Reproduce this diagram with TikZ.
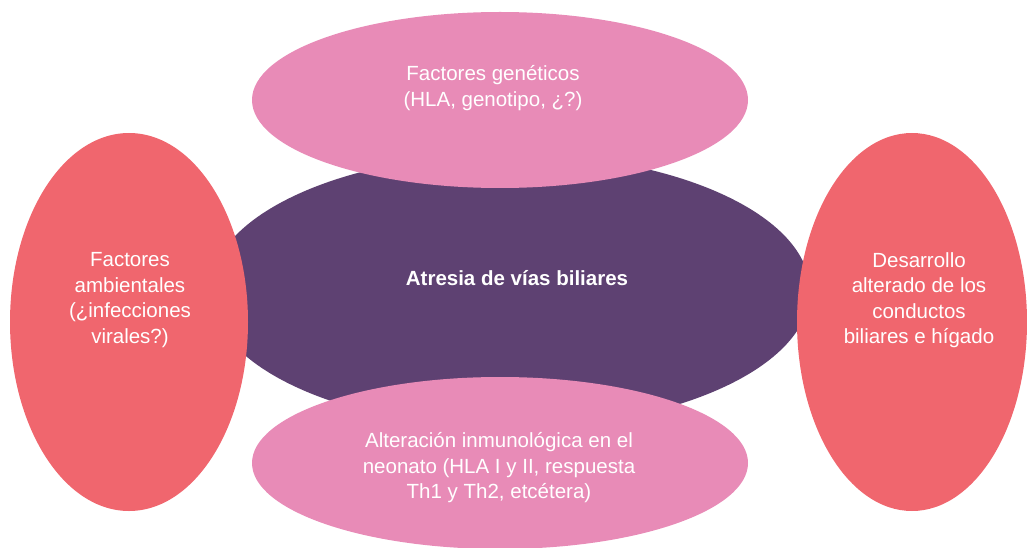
\documentclass[tikz,border=0pt]{standalone}
\usepackage{fontspec}
\setmainfont{Liberation Sans}
\usepackage{tikz}
\usetikzlibrary{shapes.geometric,positioning}
\definecolor{redblob}{HTML}{F0666E}
\definecolor{pinkblob}{HTML}{E88BB7}
\definecolor{purpleblob}{HTML}{5E4172}
\tikzset{blob/.style={ellipse,draw=none,inner sep=0pt,outer sep=0pt},
  blob text/.style={text=white,align=center,inner sep=0pt,font=\fontsize{20.5}{25.5}\selectfont}}

\begin{document}
\begin{tikzpicture}[x=1pt,y=-1pt]
\useasboundingbox (0,0) rectangle (1027,548);

% Central ellipse
\node[blob, fill=purpleblob, minimum width=600, minimum height=274] (atresia) at (510,291) {};
\node[blob text, font=\fontsize{20.5}{25.5}\selectfont\bfseries] (atresiaT) at (517,278) {Atresia de vías biliares};

% Side ellipses (left and right)
\node[blob, fill=redblob, minimum width=238, minimum height=378] (ambiente) at (129,322) {};
\node[blob text] (ambienteT) at (130,300) {Factores\\ambientales\\(¿infecciones\\virales?)};

\node[blob, fill=redblob, minimum width=230, minimum height=378] (desarrollo) at (912,322) {};
\node[blob text] (desarrolloT) at (919,300) {Desarrollo\\alterado de los\\conductos\\biliares e hígado};

% Top and bottom ellipses
\node[blob, fill=pinkblob, minimum width=496, minimum height=176] (genetica) at (500,100) {};
\node[blob text] (geneticaT) at (493,88) {Factores genéticos\\(HLA, genotipo, ¿?)};

\node[blob, fill=pinkblob, minimum width=496, minimum height=172] (inmuno) at (500,463) {};
\node[blob text] (inmunoT) at (499,468) {Alteración inmunológica en el\\neonato (HLA I y II, respuesta\\Th1 y Th2, etcétera)};

\end{tikzpicture}
\end{document}
